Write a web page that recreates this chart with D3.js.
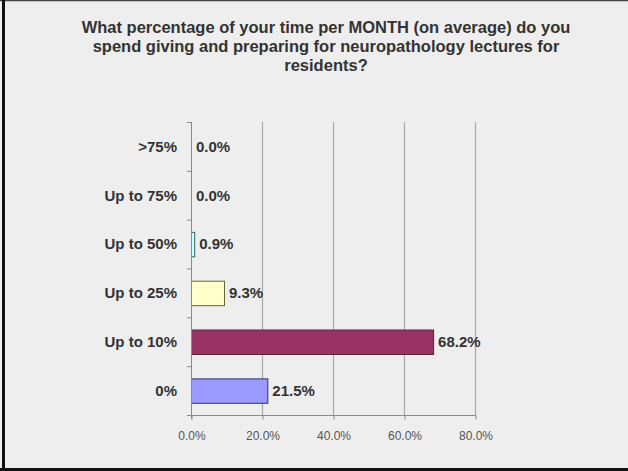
<!DOCTYPE html>
<html>
<head>
<meta charset="utf-8">
<script src="https://cdn.jsdelivr.net/npm/d3@7"></script>
<style>
  html, body { margin: 0; padding: 0; background: #eeeeee; }
  svg { display: block; }
</style>
</head>
<body>
<div id="chart"></div>
<script>
const categories = ['>75%', 'Up to 75%', 'Up to 50%', 'Up to 25%', 'Up to 10%', '0%'];
const values = [0.0, 0.0, 0.9, 9.3, 68.2, 21.5];
const barColors = ['#ccffff', '#ccffff', '#ccffff', '#ffffcc', '#993366', '#9999ff'];
const barStrokes = ['#336666', '#336666', '#336666', '#666633', '#552233', '#333366'];
const xTicks = [0, 20, 40, 60, 80];
const titleLines = [
  'What percentage of your time per MONTH (on average) do you',
  'spend giving and preparing for neuropathology lectures for',
  'residents?'
];

const width = 628;
const height = 471;
const margin = { top: 122, right: 153, bottom: 56, left: 191 };

const svg = d3.select('#chart').append('svg')
  .attr('width', width)
  .attr('height', height);

svg.append('rect')
  .attr('width', width)
  .attr('height', height)
  .attr('fill', '#eeeeee');

// frame
svg.append('line').attr('x1', 0).attr('x2', width).attr('y1', 0.5).attr('y2', 0.5)
  .attr('stroke', '#444').attr('stroke-width', 1.5);
svg.append('line').attr('x1', 3.5).attr('x2', 3.5).attr('y1', 0).attr('y2', height)
  .attr('stroke', '#111').attr('stroke-width', 3);
svg.append('line').attr('x1', 0).attr('x2', width).attr('y1', 469.5).attr('y2', 469.5)
  .attr('stroke', '#111').attr('stroke-width', 3);

// title
svg.append('text')
  .attr('x', 326)
  .attr('y', 33)
  .attr('text-anchor', 'middle')
  .style('font-family', 'Liberation Sans, Arial, sans-serif')
  .style('font-size', '16.5px')
  .style('font-weight', 'bold')
  .attr('fill', '#333')
  .selectAll('tspan')
  .data(titleLines)
  .enter().append('tspan')
  .attr('x', 326)
  .attr('dy', (d, i) => i === 0 ? 0 : 19)
  .text(d => d);

const x = d3.scaleLinear()
  .domain([0, 80])
  .range([margin.left, width - margin.right]);

const y = d3.scaleBand()
  .domain(categories)
  .range([margin.top, height - margin.bottom])
  .paddingInner(0.5)
  .paddingOuter(0.25);

const yStep = y.step();

// gridlines
svg.append('g')
  .selectAll('line')
  .data(xTicks.slice(1))
  .enter().append('line')
  .attr('x1', d => x(d) + 0.5)
  .attr('x2', d => x(d) + 0.5)
  .attr('y1', margin.top)
  .attr('y2', height - margin.bottom)
  .attr('stroke', '#a8a8a8')
  .attr('stroke-width', 1.2);

// bars
svg.append('g')
  .selectAll('rect')
  .data(values)
  .enter().append('rect')
  .attr('x', x(0) + 0.5)
  .attr('y', (d, i) => y(categories[i]) + 0.5)
  .attr('width', d => Math.max(0, x(d) - x(0)))
  .attr('height', y.bandwidth())
  .attr('fill', (d, i) => barColors[i])
  .attr('stroke', (d, i) => barStrokes[i])
  .attr('stroke-width', 1)
  .style('display', d => d > 0 ? null : 'none');

// value labels
svg.append('g')
  .selectAll('text')
  .data(values)
  .enter().append('text')
  .attr('x', d => x(d) + 5)
  .attr('y', (d, i) => y(categories[i]) + y.bandwidth() / 2)
  .attr('dy', '0.36em')
  .style('font-family', 'Liberation Sans, Arial, sans-serif')
  .style('font-size', '15px')
  .style('font-weight', 'bold')
  .attr('fill', '#333')
  .text(d => d.toFixed(1) + '%');

// y axis
const yAxis = svg.append('g');
yAxis.append('line')
  .attr('x1', x(0) + 0.5).attr('x2', x(0) + 0.5)
  .attr('y1', margin.top).attr('y2', height - margin.bottom + 4)
  .attr('stroke', '#888');
yAxis.selectAll('.tick')
  .data(d3.range(categories.length + 1))
  .enter().append('line')
  .attr('x1', x(0) - 4).attr('x2', x(0))
  .attr('y1', i => margin.top + i * yStep + 0.5)
  .attr('y2', i => margin.top + i * yStep + 0.5)
  .attr('stroke', '#888');
yAxis.selectAll('text')
  .data(categories)
  .enter().append('text')
  .attr('x', 177)
  .attr('y', d => y(d) + y.bandwidth() / 2)
  .attr('dy', '0.36em')
  .attr('text-anchor', 'end')
  .style('font-family', 'Liberation Sans, Arial, sans-serif')
  .style('font-size', '15px')
  .style('font-weight', 'bold')
  .attr('fill', '#333')
  .text(d => d);

// x axis
const xAxis = d3.axisBottom(x)
  .tickValues(xTicks)
  .tickSize(4)
  .tickPadding(12)
  .tickFormat(d => d.toFixed(1) + '%');

const gx = svg.append('g')
  .attr('transform', `translate(0.5,${height - margin.bottom + 0.5})`)
  .call(xAxis);
gx.select('.domain').attr('stroke', '#888').attr('d', `M${x(0) - 4},0H${x(80)}`);
gx.selectAll('.tick line').attr('stroke', '#888');
gx.selectAll('.tick text')
  .style('font-family', 'Liberation Sans, Arial, sans-serif')
  .style('font-size', '12px')
  .attr('fill', '#555');
</script>
</body>
</html>
